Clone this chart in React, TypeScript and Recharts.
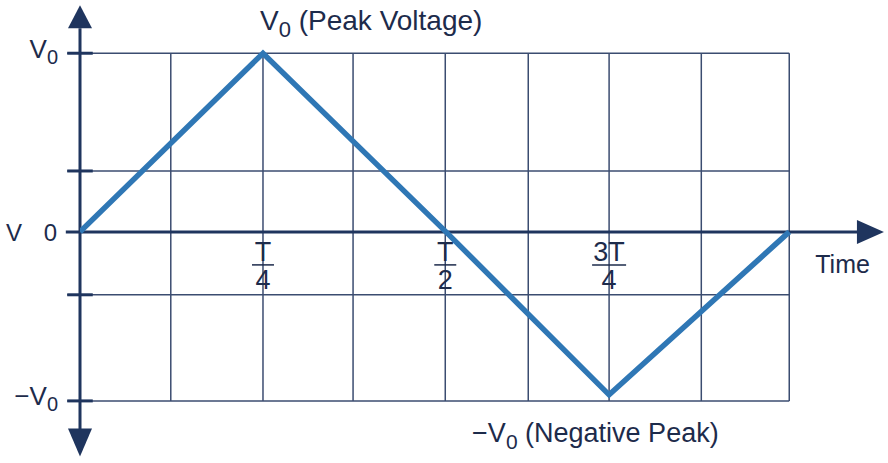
import { LineChart, Line, XAxis, YAxis, ReferenceLine, ReferenceDot } from "recharts";

// waveform (time as a fraction of the period T, voltage as a fraction of V0)
const timePoints = [0, 0.258, 0.516, 0.746, 1];
const voltage = [0, 1, 0, -0.912, 0];

// grid positions
const gridTimes = [0.128, 0.258, 0.385, 0.515, 0.632, 0.746, 0.876, 1];
const gridVolts = [1, 0.341, -0.352, -0.946];

// x tick labels (fractions of T)
const tickTimes = [0.258, 0.515, 0.746];
const tickNums = ["T", "T", "3T"];
const tickDens = ["4", "2", "4"];

const rows = timePoints.map((t, i) => ({ t, v: voltage[i] }));

const FONT = "'Liberation Sans', Arial, Helvetica, sans-serif";
const TEXT = "#1d2b4b";
const AXIS = "#1f355e";
const GRID = "#3b4c70";
const WAVE = "#2f77b5";

const X_MAX = 1.135;
const Y_MIN = -1.26;
const Y_MAX = 1.27;

const Sub = ({ x, y, main, sub, size, subSize, shift, anchor, rest }: any) => (
  <text x={x} y={y} fill={TEXT} fontFamily={FONT} fontSize={size} textAnchor={anchor}>
    <tspan>{main}</tspan>
    <tspan dy={shift} fontSize={subSize}>{sub}</tspan>
    {rest ? <tspan dy={-shift}>{rest}</tspan> : null}
  </text>
);

export default function App() {
  return (
    <div style={{ position: "absolute", left: 0, top: 0, width: 888, height: 463, background: "#fff" }}>
      <LineChart width={888} height={463} data={rows} margin={{ top: 5, right: 3, bottom: 6, left: 80 }}>
        <XAxis dataKey="t" type="number" domain={[0, X_MAX]} hide allowDataOverflow />
        <YAxis type="number" domain={[Y_MIN, Y_MAX]} hide allowDataOverflow />

        {gridTimes.map((t) => (
          <ReferenceLine key={"gx" + t} segment={[{ x: t, y: gridVolts[3] }, { x: t, y: gridVolts[0] }]} stroke={GRID} strokeWidth={1.5} ifOverflow="visible" />
        ))}
        {gridVolts.map((v) => (
          <ReferenceLine key={"gy" + v} segment={[{ x: -0.018, y: v }, { x: 1, y: v }]} stroke={GRID} strokeWidth={1.5} ifOverflow="visible" />
        ))}
        {gridVolts.map((v) => (
          <ReferenceLine key={"tk" + v} segment={[{ x: -0.018, y: v }, { x: 0.018, y: v }]} stroke={AXIS} strokeWidth={3} ifOverflow="visible" />
        ))}

        {/* axes */}
        <ReferenceLine segment={[{ x: -0.02, y: 0 }, { x: 1.1, y: 0 }]} stroke={AXIS} strokeWidth={3} ifOverflow="visible" />
        <ReferenceLine segment={[{ x: 0, y: -1.12 }, { x: 0, y: 1.14 }]} stroke={AXIS} strokeWidth={3} ifOverflow="visible" />
        <ReferenceDot x={0} y={1.268} ifOverflow="visible" shape={(p: any) => (
          <polygon points={`${p.cx},${p.cy} ${p.cx - 12},${p.cy + 23} ${p.cx + 12},${p.cy + 23}`} fill={AXIS} />
        )} />
        <ReferenceDot x={0} y={-1.257} ifOverflow="visible" shape={(p: any) => (
          <polygon points={`${p.cx},${p.cy} ${p.cx - 12},${p.cy - 28} ${p.cx + 12},${p.cy - 28}`} fill={AXIS} />
        )} />
        <ReferenceDot x={1.1335} y={0} ifOverflow="visible" shape={(p: any) => (
          <polygon points={`${p.cx},${p.cy} ${p.cx - 27},${p.cy - 12} ${p.cx - 27},${p.cy + 12}`} fill={AXIS} />
        )} />

        <Line dataKey="v" type="linear" stroke={WAVE} strokeWidth={5.5} dot={false} activeDot={false} isAnimationActive={false} />

        {/* x tick labels */}
        {tickTimes.map((t, i) => (
          <ReferenceDot key={"xt" + t} x={t} y={0} ifOverflow="visible" shape={(p: any) => (
            <g fill={TEXT} fontFamily={FONT} fontSize={27} textAnchor="middle">
              <text x={p.cx} y={p.cy + 29}>{tickNums[i]}</text>
              <line x1={p.cx - (i === 2 ? 17 : 11)} x2={p.cx + (i === 2 ? 17 : 11)} y1={p.cy + 33} y2={p.cy + 33} stroke={TEXT} strokeWidth={1.5} />
              <text x={p.cx} y={p.cy + 57}>{tickDens[i]}</text>
            </g>
          )} />
        ))}

        {/* y labels */}
        <ReferenceDot x={0} y={1} ifOverflow="visible" shape={(p: any) => (
          <Sub x={p.cx - 22} y={p.cy + 5} main="V" sub="0" size={26} subSize={20} shift={6} anchor="end" />
        )} />
        <ReferenceDot x={0} y={0} ifOverflow="visible" shape={(p: any) => (
          <g fill={TEXT} fontFamily={FONT} fontSize={24}>
            <text x={p.cx - 74} y={p.cy + 9}>V</text>
            <text x={p.cx - 23} y={p.cy + 9} textAnchor="end">0</text>
          </g>
        )} />
        <ReferenceDot x={0} y={-0.946} ifOverflow="visible" shape={(p: any) => (
          <Sub x={p.cx - 22} y={p.cy + 4} main="−V" sub="0" size={26} subSize={20} shift={6} anchor="end" />
        )} />

        {/* annotations */}
        <ReferenceDot x={0.258} y={1} ifOverflow="visible" shape={(p: any) => (
          <Sub x={p.cx - 3} y={p.cy - 23} main="V" sub="0" size={28} subSize={22} shift={7} anchor="start" rest=" (Peak Voltage)" />
        )} />
        <ReferenceDot x={0.746} y={-0.946} ifOverflow="visible" shape={(p: any) => (
          <Sub x={p.cx - 137} y={p.cy + 41} main="−V" sub="0" size={27} subSize={21} shift={7} anchor="start" rest=" (Negative Peak)" />
        )} />
        <ReferenceDot x={1} y={0} ifOverflow="visible" shape={(p: any) => (
          <text x={p.cx + 26} y={p.cy + 41} fill={TEXT} fontFamily={FONT} fontSize={25}>Time</text>
        )} />
      </LineChart>
    </div>
  );
}
